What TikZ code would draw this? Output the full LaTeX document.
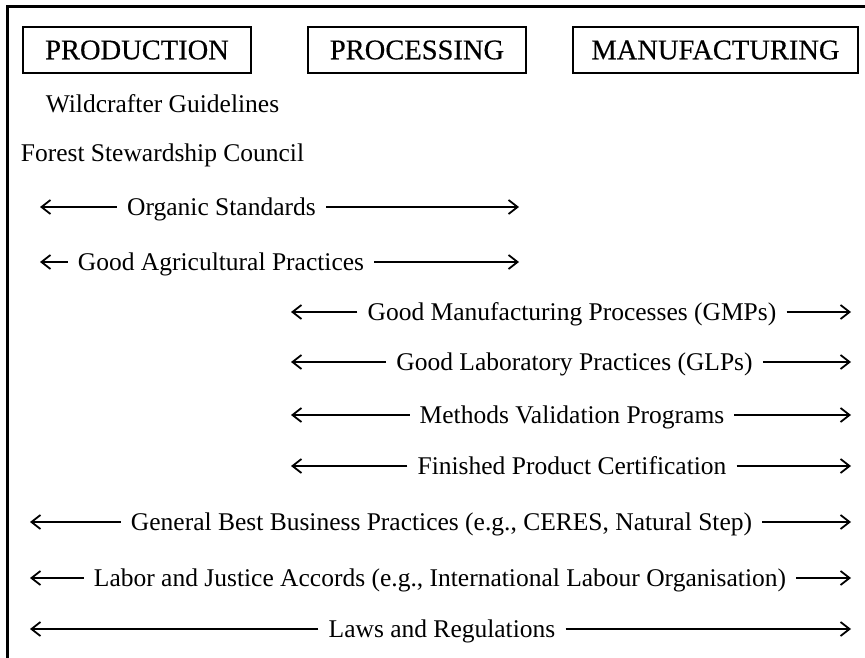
\documentclass[tikz,border=0pt]{standalone}
\usepackage{fontspec}
\setmainfont{Liberation Serif}
\usetikzlibrary{arrows.meta,positioning}

\tikzset{
    % column headings
    stagebox/.style={
        rectangle,
        draw,
        line width=2pt,
        minimum height=46pt,
        inner sep=0pt,
        font=\fontsize{28.5}{32}\selectfont\addfontfeature{FakeBold=0.4}
    },
    % plain labels
    guidetext/.style={
        inner sep=0pt,
        text height=21pt,
        text depth=5pt,
        font=\fontsize{25.5}{30}\selectfont
    },
    % labels that sit on a span arrow
    spantext/.style={
        guidetext,
        inner xsep=10pt
    },
    spanarrow/.style={
        -{Straight Barb[length=9pt,width=14pt]},
        line width=1.8pt
    }
}

\begin{document}
\begin{tikzpicture}[x=1pt,y=-1pt]
    \useasboundingbox (0,0) rectangle (865,658);

    % Frame
    \draw[line width=3pt,line join=miter] (866,7) -- (7,7) -- (7,659);

    % Stages
    \node[stagebox,minimum width=228pt] (prod) at (137,50) {PRODUCTION};
    \node[stagebox,minimum width=218pt] (proc) at (417,50) {PROCESSING};
    \node[stagebox,minimum width=285pt] (manu) at (715.5,50) {MANUFACTURING};

    % Production only
    \node[guidetext] (wild) at (162.5,105) {Wildcrafter Guidelines};
    \node[guidetext] (fsc) at (162.5,154) {Forest Stewardship Council};

    % Production to processing
    \node[spantext] (organic) at (221.5,207) {Organic Standards};
    \coordinate (organicL) at (40,207);
    \coordinate (organicR) at (519,207);
    \draw[spanarrow] (organic.west) -- (organicL);
    \draw[spanarrow] (organic.east) -- (organicR);

    \node[spantext] (gap) at (221,262) {Good Agricultural Practices};
    \coordinate (gapL) at (40,262);
    \coordinate (gapR) at (519,262);
    \draw[spanarrow] (gap.west) -- (gapL);
    \draw[spanarrow] (gap.east) -- (gapR);

    % Processing to manufacturing
    \node[spantext] (gmp) at (572,312) {Good Manufacturing Processes (GMPs)};
    \coordinate (gmpL) at (291,312);
    \coordinate (gmpR) at (851,312);
    \draw[spanarrow] (gmp.west) -- (gmpL);
    \draw[spanarrow] (gmp.east) -- (gmpR);

    \node[spantext] (glp) at (574.5,362) {Good Laboratory Practices (GLPs)};
    \coordinate (glpL) at (291,362);
    \coordinate (glpR) at (851,362);
    \draw[spanarrow] (glp.west) -- (glpL);
    \draw[spanarrow] (glp.east) -- (glpR);

    \node[spantext] (mvp) at (572,415) {Methods Validation Programs};
    \coordinate (mvpL) at (291,415);
    \coordinate (mvpR) at (851,415);
    \draw[spanarrow] (mvp.west) -- (mvpL);
    \draw[spanarrow] (mvp.east) -- (mvpR);

    \node[spantext] (fpc) at (572,466) {Finished Product Certification};
    \coordinate (fpcL) at (291,466);
    \coordinate (fpcR) at (851,466);
    \draw[spanarrow] (fpc.west) -- (fpcL);
    \draw[spanarrow] (fpc.east) -- (fpcR);

    % Whole chain
    \node[spantext] (gbbp) at (441.5,522) {General Best Business Practices (e.g., CERES, Natural Step)};
    \coordinate (gbbpL) at (30,522);
    \coordinate (gbbpR) at (851,522);
    \draw[spanarrow] (gbbp.west) -- (gbbpL);
    \draw[spanarrow] (gbbp.east) -- (gbbpR);

    \node[spantext] (labor) at (440,578) {Labor and Justice Accords (e.g., International Labour Organisation)};
    \coordinate (laborL) at (30,578);
    \coordinate (laborR) at (851,578);
    \draw[spanarrow] (labor.west) -- (laborL);
    \draw[spanarrow] (labor.east) -- (laborR);

    \node[spantext] (laws) at (442,629) {Laws and Regulations};
    \coordinate (lawsL) at (30,629);
    \coordinate (lawsR) at (851,629);
    \draw[spanarrow] (laws.west) -- (lawsL);
    \draw[spanarrow] (laws.east) -- (lawsR);
\end{tikzpicture}
\end{document}
